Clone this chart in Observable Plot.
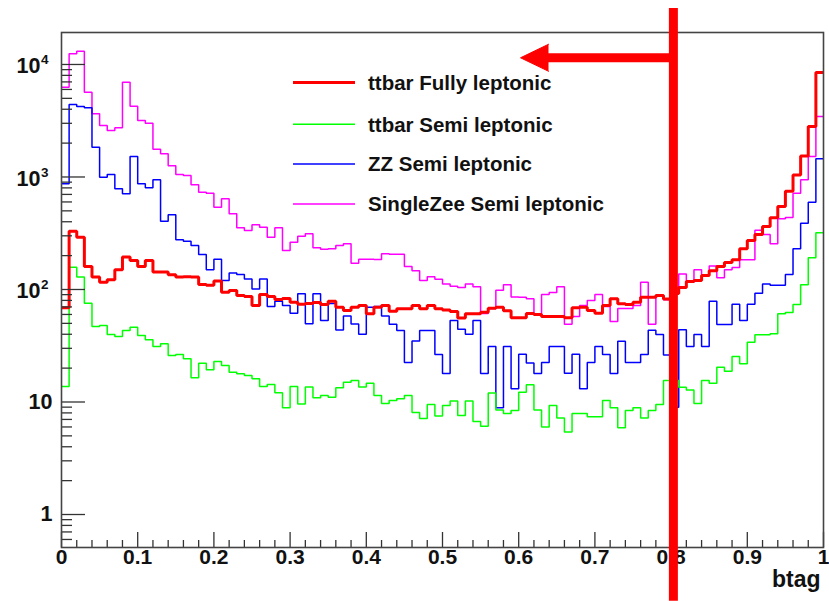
<!DOCTYPE html>
<html><head><meta charset="utf-8">
<script src="https://cdn.jsdelivr.net/npm/d3@7"></script>
<script src="https://cdn.jsdelivr.net/npm/@observablehq/plot@0.6"></script>
<style>
html,body{margin:0;padding:0;background:#fff;}
#chart{width:829px;height:601px;}
</style></head><body><div id="chart"></div>
<script>
// ---- data (100 bins of btag, width 0.01) ----
const binWidth = 0.01;
const ttbarFully = [68.8,330,292,160,129,116,122,150,194,181, 160,181,143,143,135,129,130,129,111,109,
  119,94.6,98,88.5,86.7,72.1,90.3,86.7,81.5,83.2, 77.1,74,75.1,76.6,73.6,78.7,69.6,65.1,69.6,72.1,
  60.8,69.6,72.1,64.1,67.3,67.3,72.1,67.3,72.1,67.3, 65.8,63.7,55.8,60.8,60.8,62.8,68.1,69.6,64.7,56.0,
  56.0,61.2,59.9,57.5,57.5,57.5,56.0,68.8,69.6,65.1, 61.5,72.1,82.7,74.6,73.6,77.1,85.4,85.4,88.5,82.3,
  92.1,104,118,120,133,147,160,174,184,230, 273,308,363,434,547,748,1042,1537,2810,8490];
const ttbarSemi = [13.7,158,129,75.5,46.9,47.9,39.8,38.2,43.2,46.2, 39,35.7,31.1,32.9,25.9,26.4,24.2,16.4,22.1,19.3,
  22.9,21.1,18.4,17.8,17.2,16.1,13.7,14.3,12.1,8.9, 13.7,9.6,13.6,10.9,11.4,11.0,13.4,15.0,15.5,13.6,
  14.7,11.4,9.7,10.3,10.7,11.4,8.07,7.13,9.5,7.5, 9.3,10.2,7.6,10.2,6.7,6.1,12.0,8.5,7.9,8.4,
  12.2,14.2,8.5,6.0,9.3,7.2,5.4,7.9,7.9,7.4, 7.4,10.3,8.9,5.9,8.4,8.9,7.2,8.4,9.5,15.5,
  15.5,13.5,12.8,9.7,15.5,14.7,20.4,18.8,25.4,21.9, 34.0,39.6,39.6,40.4,60.8,62.5,73.6,110,191,319];
const zzSemi = [871,4410,4230,4120,1840,996,1052,785,709,1521, 871,802,944,405,461,277,269,246,205,150,
  186,120,140,136,124,101,124,70.6,78.7,72.1, 61.5,91.6,49.5,91.6,53,75.1,43.6,58.1,49.3,40.1,
  69.6,70.6,58.1,49.2,43.2,22.4,34.9,43.2,43.2,26.4, 17.9,53,44.3,40.1,53,17.9,31.1,8.9,31.1,13.1,
  26.6,22.2,17.9,22.4,31.1,31.1,18.0,26.6,13.1,22.4, 31.1,26.4,17.9,34.7,22.4,22.4,26.4,43.5,39.8,26.2,
  9.0,43.8,31.1,39.8,31.1,78.7,48.9,48.9,74.0,53, 74,92.7,112,109,109,136,230,388,597,1452];
const singleZeeSemi = [6280,12450,13130,5670,3650,2870,2590,2740,6960,4260, 3180,3010,1760,1610,1260,1050,1031,852,733,718,
  539,640,471,353,334,376,358,292,353,222, 263,298,313,235,228,230,246,255,171,186,
  186,185,208,206,206,160,147,120,130,123, 112,107,104,112,106,61.2,67.8,98.6,110,85.7,
  85.5,82.7,60.3,90.3,94.0,106,49.2,57.5,72.1,79.8, 90.3,70.6,51.9,67.8,67.8,72.1,116,49.2,88.5,81,
  102,137,116,150,133,162,127,150,157,184, 184,337,308,255,425,437,718,944,1521,3450];

const seriesNames = ["ttbar Fully leptonic","ttbar Semi leptonic","ZZ Semi leptonic","SingleZee Semi leptonic"];
const seriesColors = ["#ff0000","#00ff00","#0000ff","#ff00ff"];
const seriesWidths = [3,1.5,1.5,1.5];

const xMajorTicks = [0,0.1,0.2,0.3,0.4,0.5,0.6,0.7,0.8,0.9,1];
const xTickLabels = ["0","0.1","0.2","0.3","0.4","0.5","0.6","0.7","0.8","0.9","1"];
const xTitle = "btag";
const yPlainTicks = [1,10];
const yPlainLabels = ["1","10"];
const yPowerTicks = [100,1000,10000];
const yPowerBase = ["10","10","10"];
const yPowerExp = ["2","3","4"];
const yDomain = [0.509, 19240];

// cut annotation
const cutValue = 0.803;
const cutLineY = [0.169, 31470];
const arrowLevel = 11470;
const arrowTip = 0.6024;
const arrowShaftStart = 0.6365;

// ---- helpers ----
function steps(values){
  const pts = values.map((v,i)=>({x: i*binWidth, y: v}));
  pts.push({x: values.length*binWidth, y: values[values.length-1]});
  return pts;
}
const xMinorTicks = d3.range(0, 1.0001, 0.02).filter(v => Math.abs(v*10 - Math.round(v*10)) > 1e-6);
const yMinorTicks = [];
for (const k of [-1,0,1,2,3,4]) for (let m=2;m<=9;m++){ const v = m*Math.pow(10,k); if (v>yDomain[0] && v<yDomain[1]) yMinorTicks.push(v); }

const W=829, H=601, mL=61, mR=6, mT=32, mB=54;
const innerW = W-mL-mR, innerH = H-mT-mB;
const axisColor = "#333";
const font = "'Liberation Sans', Arial, Helvetica, sans-serif";

const seriesData = [ttbarFully, ttbarSemi, zzSemi, singleZeeSemi];
const drawOrder = [3,2,1,0];

const plot = Plot.plot({
  width: W, height: H,
  marginLeft: mL, marginRight: mR, marginTop: mT, marginBottom: mB,
  x: {domain: [0,1], axis: null},
  y: {type: "log", domain: yDomain, axis: null},
  style: {fontFamily: font, background: "white", overflow: "visible"},
  marks: [
    ...drawOrder.map(i => Plot.line(steps(seriesData[i]), {
      x: "x", y: "y", curve: "step-after",
      stroke: seriesColors[i], strokeWidth: seriesWidths[i],
      strokeLinejoin: "miter", strokeLinecap: "butt"
    })),
    Plot.tickX(xMinorTicks, {x: d=>d, insetTop: innerH-7, stroke: axisColor, strokeWidth: 1.3}),
    Plot.tickX(xMajorTicks, {x: d=>d, insetTop: innerH-15, stroke: axisColor, strokeWidth: 1.3}),
    Plot.tickY(yMinorTicks, {y: d=>d, insetRight: innerW-11, stroke: axisColor, strokeWidth: 1.3}),
    Plot.tickY([...yPlainTicks, ...yPowerTicks], {y: d=>d, insetRight: innerW-24, stroke: axisColor, strokeWidth: 1.3}),
    Plot.frame({stroke: "#444", strokeWidth: 1.6}),
    Plot.text(xMajorTicks, {x: d=>d, frameAnchor: "bottom", dy: 16, text: (d,i)=>xTickLabels[i],
      fontSize: 21, fontWeight: "bold", fill: "#111"}),
    Plot.text([xTitle], {frameAnchor: "bottom-right", text: d=>d, textAnchor: "end", dx: -3, dy: 39.5,
      fontSize: 23, fontWeight: "bold", fill: "#111"}),
    Plot.text(yPlainTicks, {y: d=>d, frameAnchor: "left", text: (d,i)=>yPlainLabels[i], textAnchor: "end",
      dx: -9, fontSize: 21.5, fontWeight: "bold", fill: "#111"}),
    Plot.text(yPowerTicks, {y: d=>d, frameAnchor: "left", text: (d,i)=>yPowerBase[i], textAnchor: "end",
      dx: -21, dy: 2, fontSize: 21.5, fontWeight: "bold", fill: "#111"}),
    Plot.text(yPowerTicks, {y: d=>d, frameAnchor: "left", text: (d,i)=>yPowerExp[i], textAnchor: "start",
      dx: -20.5, dy: -4.5, fontSize: 13.5, fontWeight: "bold", fill: "#111"}),
    Plot.ruleX([cutValue], {x: d=>d, y1: cutLineY[0], y2: cutLineY[1], stroke: "#ff0000", strokeWidth: 9}),
    Plot.ruleY([arrowLevel], {y: d=>d, x1: arrowShaftStart, x2: cutValue, stroke: "#ff0000", strokeWidth: 9}),
    Plot.vector([arrowTip], {x: d=>d, y: arrowLevel, length: 28, rotate: -90, shape: "spike", r: 13.5,
      anchor: "end", fill: "#ff0000", stroke: "#ff0000", strokeWidth: 1})
  ]
});
document.getElementById("chart").appendChild(plot);

// legend (inside frame, like the ROOT TLegend)
const svg = d3.select(plot);
const lg = svg.append("g").attr("font-family", font).attr("font-weight", "bold")
  .attr("font-size", 20.5).attr("text-anchor", "start");
const legendRows = [82.5, 124.3, 164, 204];
seriesNames.forEach((name, i) => {
  lg.append("line").attr("x1", 293).attr("x2", 355).attr("y1", legendRows[i]).attr("y2", legendRows[i])
    .attr("stroke", seriesColors[i]).attr("stroke-width", seriesWidths[i]);
  lg.append("text").attr("x", 368).attr("y", legendRows[i] + 7.4).attr("fill", "#111")
    .attr("text-anchor", "start").text(name);
});
</script>
</body></html>
